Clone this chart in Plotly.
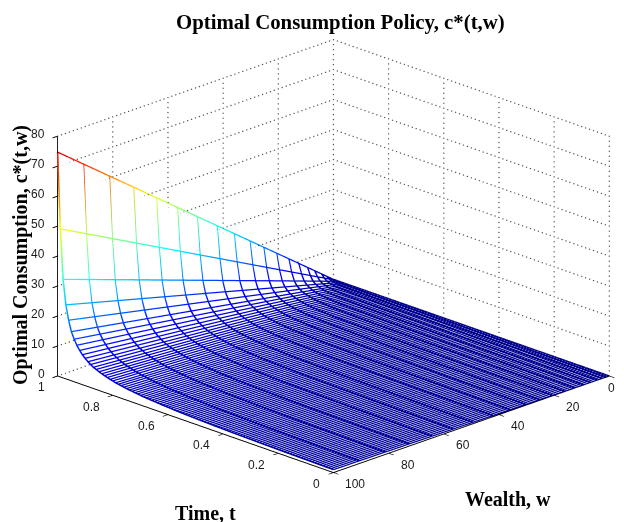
import math
import plotly.graph_objects as go

TITLE = "Optimal Consumption Policy, c*(t,w)"
X_TITLE = "Wealth, w"
Y_TITLE = "Time, t"
Z_TITLE = "Optimal Consumption, c*(t,w)"

# mesh columns read along the t=1 edge
wealth = [100, 90.6, 81.2, 72.5, 64.2, 56.6, 49.4, 42.2, 36.0, 30.3, 25.3, 20.6,
          16.2, 12.6, 9.4, 6.8, 4.3, 2.5, 1.1, 0]
# consumption at w=100 for each mesh row, t = 1.00, 0.99, ... 0.00
c_at_100 = [74.7, 49.4, 32.9, 24.7, 19.9, 16.4, 14.2, 12.5, 11.1, 10.0,
            9.1, 8.3, 7.7, 7.1, 6.7, 6.25, 5.9, 5.6, 5.3, 5.0,
            4.8, 4.5, 4.35, 4.2, 4.0, 3.85, 3.7, 3.6, 3.45, 3.35,
            3.2, 3.1, 3.0, 2.95, 2.85, 2.8, 2.7, 2.65, 2.55, 2.5,
            2.45, 2.4, 2.3, 2.25, 2.2, 2.15, 2.1, 2.08, 2.04, 2.0,
            1.96, 1.92, 1.89, 1.85, 1.82, 1.79, 1.75, 1.72, 1.69, 1.67,
            1.64, 1.61, 1.59, 1.56, 1.54, 1.52, 1.49, 1.47, 1.45, 1.43,
            1.41, 1.39, 1.37, 1.35, 1.33, 1.32, 1.3, 1.28, 1.27, 1.25,
            1.23, 1.22, 1.2, 1.19, 1.18, 1.16, 1.15, 1.14, 1.12, 1.11,
            1.1, 1.09, 1.08, 1.06, 1.05, 1.04, 1.03, 1.02, 1.01, 1.0, 0.99]
time = [round(1 - i * 0.01, 2) for i in range(len(c_at_100))]

time_ticks = [0, 0.2, 0.4, 0.6, 0.8, 1]
wealth_ticks = [0, 20, 40, 60, 80, 100]
z_ticks = [0, 10, 20, 30, 40, 50, 60, 70, 80]

jet = [[0, "rgb(0,0,143)"], [0.11, "rgb(0,0,255)"], [0.36, "rgb(0,255,255)"],
       [0.61, "rgb(255,255,0)"], [0.86, "rgb(255,0,0)"], [1, "rgb(128,0,0)"]]

def z_of(row, w):
    return c_at_100[row] * w / 100.0

rx, ry, rz = [], [], []
for i, t in enumerate(time):
    for w in wealth:
        rx.append(t); ry.append(w); rz.append(z_of(i, w))
    rx.append(None); ry.append(None); rz.append(None)
cx, cy, cz = [], [], []
for w in wealth:
    for i, t in enumerate(time):
        cx.append(t); cy.append(w); cz.append(z_of(i, w))
    cx.append(None); cy.append(None); cz.append(None)

# dotted MATLAB-style grid on the two back walls, as tiny markers
N_H, N_V = 70, 48
gx, gy, gz = [], [], []
for z in z_ticks:
    for k in range(N_H + 1):
        gx.append(1); gy.append(100 * k / N_H); gz.append(z)
        gx.append(k / N_H); gy.append(0); gz.append(z)
for w in wealth_ticks[:-1]:
    for k in range(N_V + 1):
        gx.append(1); gy.append(w); gz.append(80 * k / N_V)
for t in time_ticks[:-1]:
    for k in range(N_V + 1):
        gx.append(t); gy.append(0); gz.append(80 * k / N_V)

fig = go.Figure()
fig.add_trace(go.Scatter3d(x=gx, y=gy, z=gz, mode="markers", showlegend=False, hoverinfo="skip",
                           marker=dict(color="#555555", size=0.8, line=dict(width=0))))
fig.add_trace(go.Surface(x=time, y=wealth,
                         z=[[z_of(i, w) - 0.4 for i in range(len(time))] for w in wealth],
                         colorscale=[[0, "white"], [1, "white"]], showscale=False, hoverinfo="skip",
                         lighting=dict(ambient=1, diffuse=0, specular=0, roughness=1, fresnel=0)))
for xs, ys, zs, lw in ((rx, ry, rz, 2.5), (cx, cy, cz, 3)):
    fig.add_trace(go.Scatter3d(x=xs, y=ys, z=zs, mode="lines", showlegend=False, hoverinfo="skip",
                               line=dict(width=lw, color=[v if v is not None else 0 for v in zs],
                                         colorscale=jet, cmin=0, cmax=82)))

def axis(vals, rng):
    return dict(range=rng, tickvals=vals, showticklabels=False, title=dict(text=""),
                showgrid=False, zeroline=False, showbackground=False, showspikes=False,
                showline=True, linecolor="black", linewidth=2, ticks="outside",
                ticklen=7, tickcolor="black", tickwidth=2)

tick_font = dict(family="Liberation Sans", size=12, color="#1a1a1a")
def tick_label(x, y, z, text, xanchor, xshift, yshift):
    return dict(x=x, y=y, z=z, text=text, showarrow=False, xanchor=xanchor, yanchor="middle",
                xshift=xshift, yshift=yshift, font=tick_font)

tick_annotations = (
    [tick_label(1, 100, v, str(v), "right", -11, 2) for v in z_ticks]
    + [tick_label(v, 100, 0, str(v), "right", -11, -11.5) for v in time_ticks]
    + [tick_label(0, v, 0, str(v), "left", 10, -11.5) for v in wealth_ticks if v > 0]
)

el = math.radians(20.5)
d = 3.0
shift = (0.048, 0.048, -0.037)
eye = (-d * math.cos(el) / math.sqrt(2) + shift[0], d * math.cos(el) / math.sqrt(2) + shift[1], d * math.sin(el) + shift[2])
W, H = 616, 514   # the page adds an 8px body margin
serif = "Liberation Serif"
def label(text, px, py, size, angle=0):
    return dict(text="<b>%s</b>" % text, x=(px - 8) / W, y=1 - (py - 8) / H, xref="paper", yref="paper", showarrow=False,
                xanchor="center", yanchor="middle", textangle=angle,
                font=dict(family=serif, size=size, color="black"))

fig.update_layout(
    width=W, height=H, paper_bgcolor="white", margin=dict(l=0, r=0, t=0, b=0),
    scene=dict(
        domain=dict(x=[0, 1], y=[0, 1]),
        xaxis=axis(time_ticks, [0, 1]), yaxis=axis(wealth_ticks, [0, 100]), zaxis=axis(z_ticks, [0, 80]),
        aspectmode="manual", aspectratio=dict(x=1.518, y=1.518, z=0.996),
        annotations=tick_annotations,
        camera=dict(projection=dict(type="orthographic"),
                    eye=dict(x=eye[0], y=eye[1], z=eye[2]),
                    center=dict(x=shift[0], y=shift[1], z=shift[2]), up=dict(x=0, y=0, z=1))),
    annotations=[
        label(TITLE, 340, 22, 20.8),
        label(X_TITLE, 508, 499, 20),
        label(Y_TITLE, 205, 513, 20),
        label(Z_TITLE, 20, 255, 20, -90),
        dict(text=str(wealth_ticks[0]), x=(611 - 8) / W, y=1 - (388 - 8) / H, xref="paper", yref="paper",
             showarrow=False, xanchor="center", yanchor="middle", font=tick_font),
    ])
fig.write_html("out.html")
